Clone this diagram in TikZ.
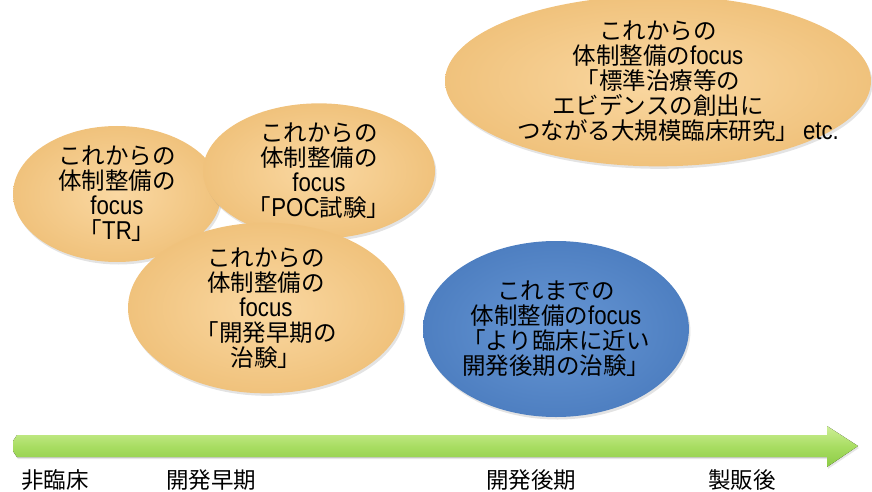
\documentclass[tikz,border=0pt]{standalone}
\usepackage{fontspec}
\setmainfont{Noto Sans CJK JP}
\newfontfamily\latfont[FakeStretch=0.86,Scale=1.1]{Liberation Sans}
\newcommand\lt[1]{{\latfont #1}}
\usetikzlibrary{shapes.geometric,shadows,calc}
\definecolor{ornin}{HTML}{FAD8A2}
\definecolor{ornout}{HTML}{F0C27C}
\definecolor{bluin}{HTML}{6696D4}
\definecolor{bluout}{HTML}{4E7FC1}
\definecolor{grtop}{HTML}{CDEE96}
\definecolor{grmid}{HTML}{A8DD62}
\definecolor{grbot}{HTML}{8CCB45}
\tikzset{
  bubble/.style={ellipse, inner sep=0pt, align=center,
    font=\fontsize{23.5}{25}\selectfont,
    drop shadow={opacity=0.22, shadow xshift=1.5pt, shadow yshift=-2.5pt}},
  orangebub/.style={bubble, inner color=ornin, outer color=ornout},
  bluebub/.style={bubble, inner color=bluin, outer color=bluout},
  axislabel/.style={font=\fontsize{22.5}{24}\selectfont, inner sep=0pt}
}
\begin{document}
\begin{tikzpicture}[x=1pt,y=-1pt]
\useasboundingbox (0,0) rectangle (872,492);
% ellipses
\node[orangebub, minimum width=208, minimum height=136] (tr) at (117,194)
  {これからの\\体制整備の\\\lt{focus}\\「\lt{TR}」};
\node[orangebub, minimum width=232, minimum height=124] (poc) at (319,171)
  {これからの\\体制整備の\\\lt{focus}\\「\lt{POC}試験」};
\node[orangebub, minimum width=276, minimum height=160] (early) at (266,308)
  {これからの\\体制整備の\\\lt{focus}\\「開発早期の\\治験」};
\node[orangebub, minimum width=426, minimum height=156] (large) at (658,81)
  {これからの\\体制整備の\lt{focus}\\「標準治療等の\\エビデンスの創出に\\つながる大規模臨床研究」\rlap{\hspace{4pt}\lt{etc.}}};
\node[bluebub, minimum width=264, minimum height=176] (late) at (556,329)
  {これまでの\\体制整備の\lt{focus}\\「より臨床に近い\\開発後期の治験」};
% arrow
\coordinate (axs) at (13,446);
\coordinate (axe) at (858,446);
\fill[top color=grtop, bottom color=grbot, middle color=grmid,
      drop shadow={opacity=0.2, shadow xshift=1pt, shadow yshift=-2pt}]
  ($(axs)+(4,-11)$) -- (827,435) -- (827,426) -- (axe) -- (827,467) -- (827,457)
  -- ($(axs)+(4,11)$) -- ($(axs)+(0,5)$) -- ($(axs)+(0,-5)$) -- cycle;
% axis labels
\node[axislabel] (l1) at (55,480) {非臨床};
\node[axislabel] (l2) at (211,480) {開発早期};
\node[axislabel] (l3) at (531,480) {開発後期};
\node[axislabel] (l4) at (742,480) {製販後};
\end{tikzpicture}
\end{document}
